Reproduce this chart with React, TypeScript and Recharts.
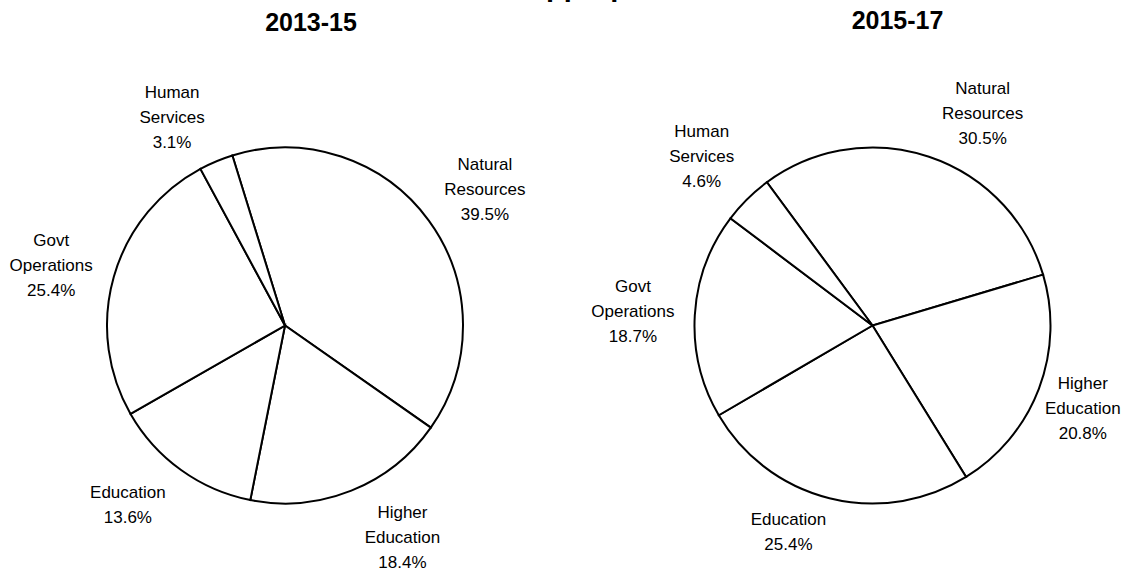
import { Pie, PieChart } from 'recharts';

const categories = ['Natural Resources', 'Higher Education', 'Education', 'Govt Operations', 'Human Services'];
const share2013 = [39.5, 18.4, 13.6, 25.4, 3.1];
const share2015 = [30.5, 20.8, 25.4, 18.7, 4.6];
const periods = ['2013-15', '2015-17'];
const mainTitle = 'Appropriations';

const WIDTH = 1125;
const HEIGHT = 571;
const RADIUS = 178;
const LABEL_RADIUS = 240;
const LINE_GAP = 25;
const FONT = "'Liberation Sans', Arial, sans-serif";
const RADIAN = Math.PI / 180;

// layout of the two pies; nudges copy the hand-placed labels of the original
const pies = [
  {
    values: share2013,
    cx: 285,
    startAngle: 107.2,
    titleX: 311,
    titleY: 31,
    nudge: [[6, 5], [28, -11], [-17, -16], [-3, 5], [-20, 13]],
  },
  {
    values: share2015,
    cx: 872.5,
    startAngle: 126.4,
    titleX: 897.5,
    titleY: 29,
    nudge: [[34, 15], [-14, -3], [-26, -27], [0, 0], [-2, 1]],
  },
];

const makeLabel = (nudge: number[][]) => (props: any) => {
  const { cx, cy, midAngle, index, value } = props;
  const name = props.name ?? props.payload?.name ?? '';
  const [dx, dy] = nudge[index] ?? [0, 0];
  const x = cx + LABEL_RADIUS * Math.cos(-midAngle * RADIAN) + dx;
  const y = cy + LABEL_RADIUS * Math.sin(-midAngle * RADIAN) + dy;
  const lines = [...String(name).split(' '), `${Number(value).toFixed(1)}%`];
  const top = y + 6 - ((lines.length - 1) * LINE_GAP) / 2;
  return (
    <text x={x} y={top} textAnchor="middle" fontFamily={FONT} fontSize={17} fill="#000">
      {lines.map((line, i) => (
        <tspan key={i} x={x} y={top + i * LINE_GAP}>
          {line}
        </tspan>
      ))}
    </text>
  );
};

export default function App() {
  return (
    <div style={{ position: 'absolute', left: 0, top: 0, width: WIDTH, height: HEIGHT, background: '#fff' }}>
      <PieChart width={WIDTH} height={HEIGHT} margin={{ top: 0, right: 0, bottom: 0, left: 0 }}>
        {pies.map((p, k) => (
          <Pie
            key={periods[k]}
            data={categories.map((name, i) => ({ name, value: p.values[i] }))}
            dataKey="value"
            nameKey="name"
            cx={p.cx}
            cy={325.5}
            outerRadius={RADIUS}
            startAngle={p.startAngle}
            endAngle={p.startAngle - 360}
            fill="#fff"
            stroke="#000"
            strokeWidth={2}
            labelLine={false}
            label={makeLabel(p.nudge)}
            isAnimationActive={false}
          />
        ))}
      </PieChart>
      {/* the page title sits above the picture's top edge; only its descenders show */}
      <svg
        width={WIDTH}
        height={HEIGHT}
        style={{ position: 'absolute', left: 0, top: 0, pointerEvents: 'none' }}
      >
        <text x={525} y={-4} fontFamily={FONT} fontWeight="bold" fontSize={29} fill="#000">
          {mainTitle}
        </text>
        {pies.map((p, k) => (
          <text
            key={periods[k]}
            x={p.titleX}
            y={p.titleY}
            textAnchor="middle"
            fontFamily={FONT}
            fontWeight="bold"
            fontSize={25}
            fill="#000"
          >
            {periods[k]}
          </text>
        ))}
      </svg>
    </div>
  );
}
